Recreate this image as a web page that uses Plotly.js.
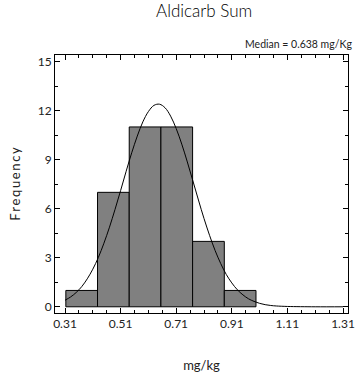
<!DOCTYPE html>
<html>
<head>
<meta charset="utf-8">
<script src="https://cdn.plot.ly/plotly-3.0.1.min.js"></script>
<style>html,body{margin:0;padding:0;background:#fff;}#chart{width:355px;height:379px;}</style>
</head>
<body>
<div id="chart"></div>
<script>
// Histogram bins (left edges) and counts
var binLeft = [0.313, 0.427, 0.541, 0.655, 0.769, 0.883];
var binWidth = [0.114, 0.114, 0.114, 0.114, 0.114, 0.114];
var counts = [1, 7, 11, 11, 4, 1];

// Fitted curve
var curveX = [0.31,0.33,0.35,0.37,0.39,0.41,0.43,0.45,0.47,0.49,0.51,0.53,0.55,0.57,0.59,0.61,0.63,0.65,0.67,0.69,0.71,0.73,0.75,0.77,0.79,0.81,0.83,0.85,0.87,0.89,0.91,0.93,0.95,0.97,0.99,1.01,1.03,1.05,1.07,1.11,1.21,1.31];
var curveY = [0.40,0.60,0.87,1.23,1.71,2.30,3.02,3.89,4.87,5.96,7.11,8.29,9.42,10.44,11.31,11.94,12.32,12.39,12.17,11.66,10.90,9.95,8.86,7.70,6.53,5.40,4.37,3.44,2.65,1.98,1.46,1.04,0.73,0.49,0.33,0.21,0.13,0.08,0.05,0.02,0.0,0.0];

var xTickVals = [0.31, 0.51, 0.71, 0.91, 1.11, 1.31];
var xTickText = ['0.31', '0.51', '0.71', '0.91', '1.11', '1.31'];
var yTickVals = [0, 3, 6, 9, 12, 15];

var fontFam = 'Lato, "Open Sans", sans-serif';

var traces = [
  {
    type: 'bar', x: binLeft, y: counts, width: binWidth, offset: 0,
    marker: {color: '#808080', line: {color: '#000', width: 1}},
    hoverinfo: 'skip'
  },
  {
    type: 'scatter', mode: 'lines', x: curveX, y: curveY,
    line: {color: '#000', width: 1, shape: 'spline'},
    hoverinfo: 'skip'
  }
];

var layout = {
  width: 355, height: 379,
  margin: {l: 55, r: 7, t: 55, b: 66},
  paper_bgcolor: '#fff', plot_bgcolor: '#fff',
  showlegend: false,
  font: {family: fontFam, color: '#222', size: 12},
  title: {text: 'Aldicarb Sum', x: 0.575, xanchor: 'center', y: 0.972, yanchor: 'middle', font: {size: 17, family: fontFam, color: '#000', weight: 300}},
  xaxis: {
    range: [0.274, 1.328], tickmode: 'array', tickvals: xTickVals, ticktext: xTickText,
    ticks: 'inside', ticklen: 5, tickcolor: '#000', showline: true, linecolor: '#000', linewidth: 1,
    mirror: 'allticks', showgrid: false, zeroline: false,
    minor: {tick0: 0.31, dtick: 0.05, ticks: 'inside', ticklen: 3, tickcolor: '#000', showgrid: false},
    tickfont: {size: 12, color: '#222'},
    title: {text: 'mg/kg', standoff: 30, font: {size: 13, color: '#222'}}
  },
  yaxis: {
    range: [-0.38, 15.4], tickmode: 'array', tickvals: yTickVals,
    ticks: 'inside', ticklen: 5, tickcolor: '#000', showline: true, linecolor: '#000', linewidth: 1,
    mirror: 'allticks', showgrid: false, zeroline: false,
    minor: {tick0: 0, dtick: 1.5, ticks: 'inside', ticklen: 3, tickcolor: '#000', showgrid: false},
    tickfont: {size: 12, color: '#222'},
    title: {text: 'F\u2009r\u2009e\u2009q\u2009u\u2009e\u2009n\u2009c\u2009y', standoff: 14, font: {size: 13, color: '#222'}}
  },
  annotations: [
    {text: 'Median = 0.638 mg/Kg', xref: 'paper', yref: 'paper', x: 1.02, y: 1.01, xanchor: 'right', yanchor: 'bottom', showarrow: false, font: {size: 10.5, color: '#222', family: fontFam}}
  ],
  bargap: 0
};

Plotly.newPlot('chart', traces, layout, {displayModeBar: false, staticPlot: true});
</script>
</body>
</html>
